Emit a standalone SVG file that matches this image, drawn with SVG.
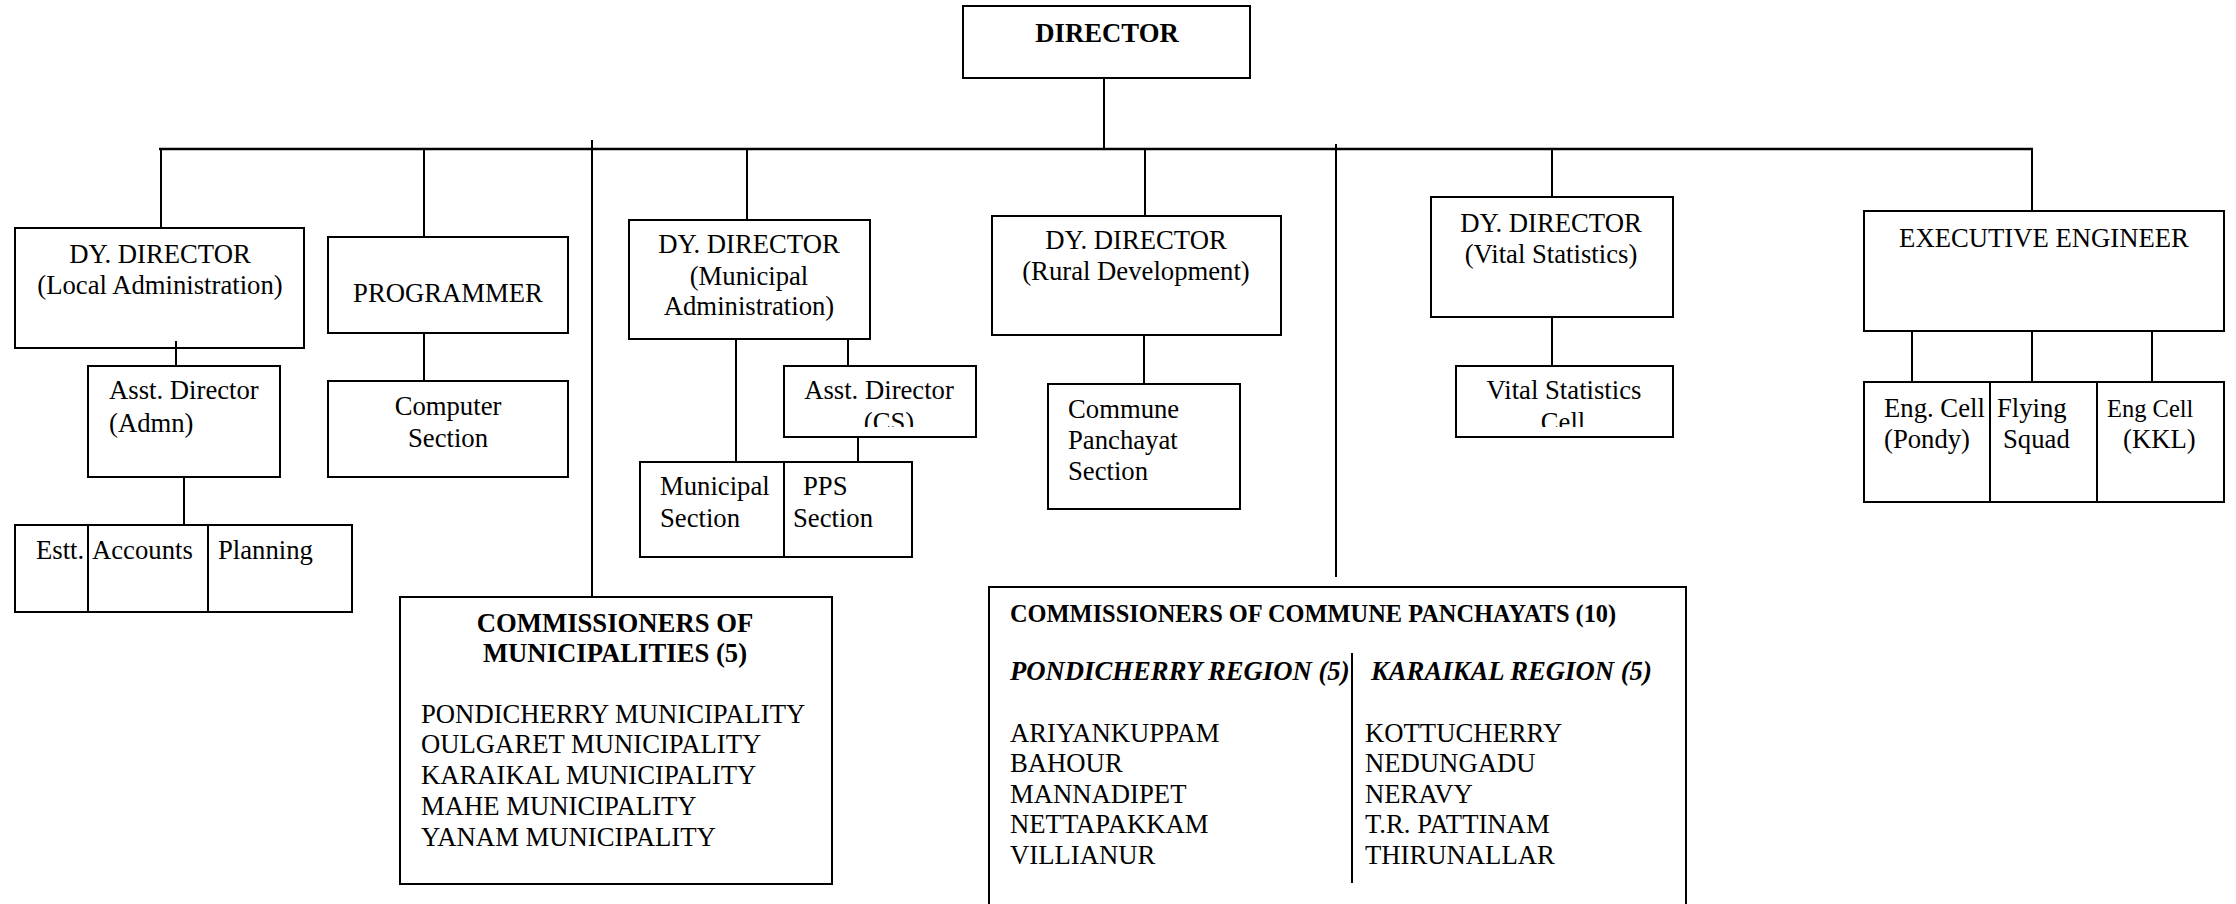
<svg xmlns="http://www.w3.org/2000/svg" width="2236" height="904" viewBox="0 0 2236 904">
<style>
rect{fill:none;stroke:#000;stroke-width:2}
line{stroke:#000;stroke-width:2}
text{font-family:"Liberation Serif","Times New Roman",serif;font-size:26.7px;fill:#000}
.c{text-anchor:middle}
.b{font-weight:bold}
.bi{font-weight:bold;font-style:italic}
</style>
<defs>
<clipPath id="clipCS"><rect x="780" y="360" width="200" height="67"/></clipPath>
<clipPath id="clipVS"><rect x="1450" y="360" width="230" height="67"/></clipPath>
</defs>
<rect x="0" y="0" width="2236" height="904" style="fill:#fff;stroke:none"/>
<g id="connectors">
<line x1="1104" y1="78" x2="1104" y2="149"/>
<line x1="159" y1="149" x2="2033" y2="149" style="stroke-width:2.5"/>
<line x1="161" y1="149" x2="161" y2="228"/>
<line x1="424" y1="149" x2="424" y2="237"/>
<line x1="592" y1="140" x2="592" y2="597"/>
<line x1="747" y1="149" x2="747" y2="220"/>
<line x1="1145" y1="149" x2="1145" y2="216"/>
<line x1="1336" y1="144" x2="1336" y2="577"/>
<line x1="1552" y1="149" x2="1552" y2="197"/>
<line x1="2032" y1="149" x2="2032" y2="211"/>
<line x1="176" y1="341" x2="176" y2="366"/>
<line x1="184" y1="477" x2="184" y2="525"/>
<line x1="424" y1="333" x2="424" y2="381"/>
<line x1="736" y1="339" x2="736" y2="462"/>
<line x1="848" y1="339" x2="848" y2="366"/>
<line x1="858" y1="437" x2="858" y2="462"/>
<line x1="1144" y1="335" x2="1144" y2="384"/>
<line x1="1552" y1="317" x2="1552" y2="366"/>
<line x1="1912" y1="331" x2="1912" y2="382"/>
<line x1="2032" y1="331" x2="2032" y2="382"/>
<line x1="2152" y1="331" x2="2152" y2="382"/>
</g>
<g id="director">
<rect x="963" y="6" width="287" height="72"/>
<text x="1107" y="42" class="c b">DIRECTOR</text>
</g>
<g id="dd-local">
<rect x="15" y="228" width="289" height="120"/>
<text x="160" y="263" class="c">DY. DIRECTOR</text>
<text x="160" y="294" class="c">(Local Administration)</text>
</g>
<g id="programmer">
<rect x="328" y="237" width="240" height="96"/>
<text x="448" y="302" class="c">PROGRAMMER</text>
</g>
<g id="asst-admn">
<rect x="88" y="366" width="192" height="111"/>
<text x="109" y="399">Asst. Director</text>
<text x="109" y="432">(Admn)</text>
</g>
<g id="computer">
<rect x="328" y="381" width="240" height="96"/>
<text x="448" y="415" class="c">Computer</text>
<text x="448" y="447" class="c">Section</text>
</g>
<g id="estt-accounts-planning">
<rect x="15" y="525" width="337" height="87"/>
<line x1="88" y1="525" x2="88" y2="612"/>
<line x1="208" y1="525" x2="208" y2="612"/>
<text x="36" y="559">Estt.</text>
<text x="92" y="559">Accounts</text>
<text x="218" y="559">Planning</text>
</g>
<g id="dd-municipal">
<rect x="629" y="220" width="241" height="119"/>
<text x="749" y="253" class="c">DY. DIRECTOR</text>
<text x="749" y="285" class="c">(Municipal</text>
<text x="749" y="315" class="c">Administration)</text>
</g>
<g id="asst-cs">
<rect x="784" y="366" width="192" height="71"/>
<text x="879" y="399" class="c">Asst. Director</text>
<text x="889" y="431" class="c" clip-path="url(#clipCS)">(CS)</text>
</g>
<g id="municipal-pps">
<rect x="640" y="462" width="272" height="95"/>
<line x1="784" y1="462" x2="784" y2="557"/>
<text x="660" y="495">Municipal</text>
<text x="660" y="527">Section</text>
<text x="803" y="495">PPS</text>
<text x="793" y="527">Section</text>
</g>
<g id="dd-rural">
<rect x="992" y="216" width="289" height="119"/>
<text x="1136" y="249" class="c">DY. DIRECTOR</text>
<text x="1136" y="280" class="c">(Rural Development)</text>
</g>
<g id="commune-section">
<rect x="1048" y="384" width="192" height="125"/>
<text x="1068" y="418">Commune</text>
<text x="1068" y="449">Panchayat</text>
<text x="1068" y="480">Section</text>
</g>
<g id="dd-vital">
<rect x="1431" y="197" width="242" height="120"/>
<text x="1551" y="232" class="c">DY. DIRECTOR</text>
<text x="1551" y="263" class="c">(Vital Statistics)</text>
</g>
<g id="vital-cell">
<rect x="1456" y="366" width="217" height="71"/>
<text x="1564" y="399" class="c">Vital Statistics</text>
<text x="1563" y="431" class="c" clip-path="url(#clipVS)">Cell</text>
</g>
<g id="exec-engineer">
<rect x="1864" y="211" width="360" height="120"/>
<text x="2044" y="247" class="c">EXECUTIVE ENGINEER</text>
</g>
<g id="eng-cells">
<rect x="1864" y="382" width="360" height="120"/>
<line x1="1990" y1="382" x2="1990" y2="502"/>
<line x1="2097" y1="382" x2="2097" y2="502"/>
<text x="1884" y="417">Eng. Cell</text>
<text x="1884" y="448">(Pondy)</text>
<text x="1997" y="417">Flying</text>
<text x="2003" y="448">Squad</text>
<text x="2107" y="417" style="font-size:24.5px">Eng Cell</text>
<text x="2123" y="448">(KKL)</text>
</g>
<g id="comm-municipalities">
<rect x="400" y="597" width="432" height="287"/>
<text x="615" y="632" class="c b">COMMISSIONERS OF</text>
<text x="615" y="662" class="c b">MUNICIPALITIES (5)</text>
<text x="421" y="723">PONDICHERRY MUNICIPALITY</text>
<text x="421" y="753">OULGARET MUNICIPALITY</text>
<text x="421" y="784">KARAIKAL MUNICIPALITY</text>
<text x="421" y="815">MAHE MUNICIPALITY</text>
<text x="421" y="846">YANAM MUNICIPALITY</text>
</g>
<g id="comm-commune">
<rect x="989" y="587" width="697" height="330"/>
<text x="1010" y="622" class="b" style="font-size:24.4px">COMMISSIONERS OF COMMUNE PANCHAYATS (10)</text>
<text x="1010" y="680" class="bi">PONDICHERRY REGION (5)</text>
<text x="1371" y="680" class="bi">KARAIKAL REGION (5)</text>
<line x1="1352" y1="653" x2="1352" y2="883"/>
<text x="1010" y="742">ARIYANKUPPAM</text>
<text x="1010" y="772">BAHOUR</text>
<text x="1010" y="803">MANNADIPET</text>
<text x="1010" y="833">NETTAPAKKAM</text>
<text x="1010" y="864">VILLIANUR</text>
<text x="1365" y="742">KOTTUCHERRY</text>
<text x="1365" y="772">NEDUNGADU</text>
<text x="1365" y="803">NERAVY</text>
<text x="1365" y="833">T.R. PATTINAM</text>
<text x="1365" y="864">THIRUNALLAR</text>
</g>
</svg>
